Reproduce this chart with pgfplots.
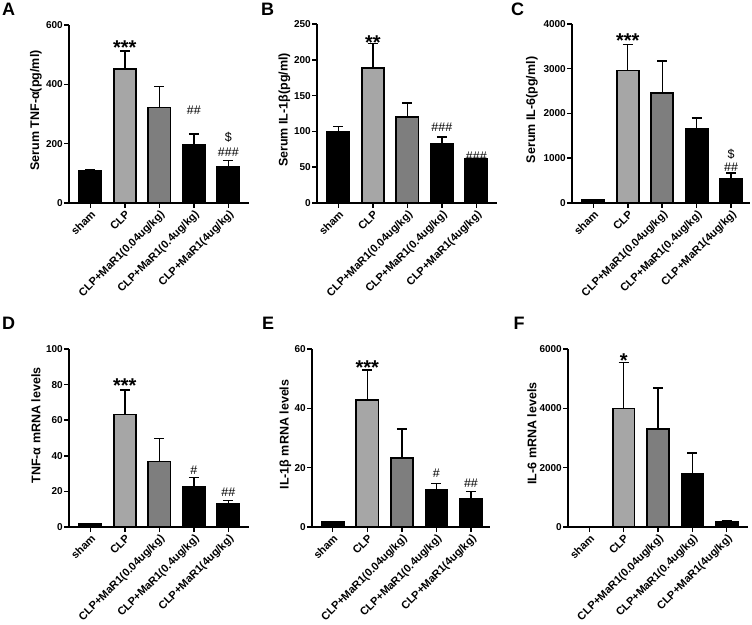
\documentclass[border=0pt]{standalone}
\usepackage{fontspec}
\setmainfont{Liberation Sans}
\usepackage{pgfplots}
\pgfplotsset{compat=1.18}
\definecolor{lg}{RGB}{166,166,166}
\definecolor{mg}{RGB}{126,126,126}
\pgfplotsset{
 panel/.style={
  scale only axis, axis lines=left, axis line style={-, line width=1.8pt},
  ymin=0, xtick={0,...,4},
  xticklabels={sham,CLP,CLP+MaR1(0.04ug/kg),CLP+MaR1(0.4ug/kg),CLP+MaR1(4ug/kg)},
  xticklabel style={rotate=45, anchor=north east, font=\fontsize{11}{12}\selectfont\bfseries, inner sep=1pt},
  yticklabel style={font=\fontsize{10}{11}\selectfont\bfseries, inner sep=1pt},
  /pgf/number format/assume math mode=true,
  /pgf/number format/1000 sep={},
  scaled y ticks=false,
  ylabel style={font=\fontsize{12.5}{13}\selectfont\bfseries, anchor=center},
  tick style={line width=1.5pt, black},
  major tick length=5pt,
  tick align=outside,
  minor tick num=0,
  ybar, bar width=0.64, bar shift=0pt,
  error bars/y dir=plus, error bars/y explicit,
  error bars/error bar style={line width=1.4pt, black},
  error bars/error mark options={rotate=90, mark size=5pt, line width=1.4pt, black},
  clip=false,
 },
 bk/.style={fill=black, draw=black, line width=1.7pt},
 lgb/.style={fill=lg, draw=black, line width=1.7pt},
 mgb/.style={fill=mg, draw=black, line width=1.7pt},
}
\tikzset{
 ann/.style={font=\fontsize{12.5}{13}\selectfont, inner sep=0pt},
 star/.style={font=\fontsize{20}{20}\selectfont\bfseries, inner sep=0pt, anchor=base},
 plab/.style={font=\fontsize{18}{18}\selectfont\bfseries},
}
\begin{document}
\begin{tikzpicture}
\useasboundingbox (0pt,0pt) rectangle (752pt,624pt);
\node[plab] at (8.5pt,615pt) {A};
\node[plab] at (267.5pt,615pt) {B};
\node[plab] at (517.5pt,615pt) {C};
\node[plab] at (8.5pt,300.5pt) {D};
\node[plab] at (268pt,300.5pt) {E};
\node[plab] at (519pt,300.5pt) {F};

% A
\begin{axis}[panel, at={(69pt,421pt)}, anchor=south west, width=180pt, height=178pt,
  xmin=-0.62, xmax=4.6, ymax=600, ytick={0,200,400,600},
  ylabel={Serum TNF-α(pg/ml)},
  ylabel style={at={(axis description cs:0,0.52)}, yshift=33pt}]
\addplot[bk] coordinates {(0,108) +- (0,3) (3,197) +- (0,35) (4,122) +- (0,21)};
\addplot[lgb] coordinates {(1,451) +- (0,62)};
\addplot[mgb] coordinates {(2,322) +- (0,70)};
\node[star] at (axis cs:1,501) {***};
\node[ann] at (axis cs:3,314) {\#\#};
\node[ann] at (axis cs:4,221) {\$};
\node[ann] at (axis cs:4,170) {\#\#\#};
\end{axis}

% B
\begin{axis}[panel, at={(317pt,421pt)}, anchor=south west, width=180pt, height=179pt,
  xmin=-0.62, xmax=4.6, ymax=250, ytick={0,50,...,250},
  ylabel={Serum IL-1β(pg/ml)},
  ylabel style={at={(axis description cs:0,0.52)}, yshift=32.5pt}]
\addplot[bk] coordinates {(0,100) +- (0,7) (3,83) +- (0,9) (4,61) +- (0,1)};
\addplot[lgb] coordinates {(1,189) +- (0,34)};
\addplot[mgb] coordinates {(2,120.5) +- (0,19)};
\node[star] at (axis cs:1,214.7) {**};
\node[ann] at (axis cs:3,106) {\#\#\#};
\node[ann] at (axis cs:4,65) {\#\#\#};
\end{axis}

% C
\begin{axis}[panel, at={(572pt,421pt)}, anchor=south west, width=178pt, height=179pt,
  xmin=-0.62, xmax=4.55, ymax=4000, ytick={0,1000,...,4000},
  ylabel={Serum IL-6(pg/ml)},
  ylabel style={at={(axis description cs:0,0.52)}, yshift=40pt}]
\addplot[bk] coordinates {(0,60) +- (0,0) (3,1667) +- (0,232) (4,546) +- (0,127)};
\addplot[lgb] coordinates {(1,2961) +- (0,575)};
\addplot[mgb] coordinates {(2,2452) +- (0,718)};
\node[star] at (axis cs:1,3473) {***};
\node[ann] at (axis cs:4,1092) {\$};
\node[ann] at (axis cs:4,807) {\#\#};
\end{axis}

% D
\begin{axis}[panel, at={(69pt,97pt)}, anchor=south west, width=180pt, height=178pt,
  xmin=-0.62, xmax=4.6, ymax=100, ytick={0,20,...,100},
  ylabel={TNF-α mRNA levels},
  ylabel style={at={(axis description cs:0,0.57)}, yshift=33pt}]
\addplot[bk] coordinates {(0,1.8) +- (0,0.3) (3,22.8) +- (0,5.1) (4,12.9) +- (0,2.1)};
\addplot[lgb] coordinates {(1,63.2) +- (0,13.8)};
\addplot[mgb] coordinates {(2,36.8) +- (0,12.9)};
\node[star] at (axis cs:1,75.5) {***};
\node[ann] at (axis cs:3,32) {\#};
\node[ann] at (axis cs:4,19.5) {\#\#};
\end{axis}

% E
\begin{axis}[panel, at={(312pt,97pt)}, anchor=south west, width=178pt, height=178pt,
  xmin=-0.6, xmax=4.55, ymax=60, ytick={0,20,40,60},
  ylabel={IL-1β mRNA levels},
  ylabel style={at={(axis description cs:0,0.52)}, yshift=26.5pt}]
\addplot[bk] coordinates {(0,1.6) +- (0,0.2) (3,12.4) +- (0,2.2) (4,9.6) +- (0,2.4)};
\addplot[lgb] coordinates {(1,42.7) +- (0,10.2)};
\addplot[mgb] coordinates {(2,23.3) +- (0,9.7)};
\node[star] at (axis cs:1,51.5) {***};
\node[ann] at (axis cs:3,18.2) {\#};
\node[ann] at (axis cs:4,14.6) {\#\#};
\end{axis}

% F
\begin{axis}[panel, at={(568pt,97pt)}, anchor=south west, width=180pt, height=178pt,
  xmin=-0.62, xmax=4.62, ymax=6000, ytick={0,2000,4000,6000},
  ylabel={IL-6 mRNA levels},
  ylabel style={at={(axis description cs:0,0.525)}, yshift=36pt}]
\addplot[bk] coordinates {(0,0) +- (0,0) (3,1783) +- (0,707) (4,190) +- (0,34)};
\addplot[lgb] coordinates {(1,3992) +- (0,1548)};
\addplot[mgb] coordinates {(2,3297) +- (0,1391)};
\node[star] at (axis cs:1,5373) {*};
\end{axis}
\end{tikzpicture}
\end{document}
